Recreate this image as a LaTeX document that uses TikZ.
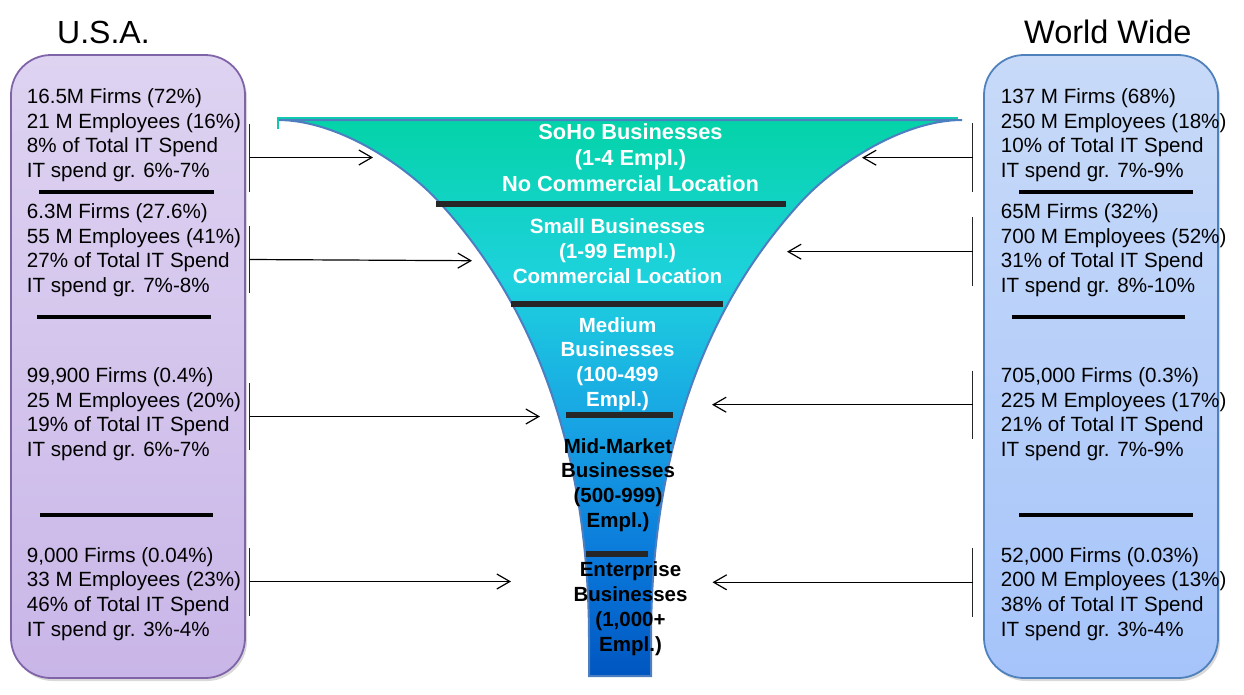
\documentclass[tikz,border=0pt]{standalone}
\usepackage{fontspec}
\setmainfont{Liberation Sans}
\usetikzlibrary{arrows.meta,shadows}
\definecolor{usatop}{RGB}{222,211,241}
\definecolor{usabot}{RGB}{201,182,232}
\definecolor{usaedge}{RGB}{128,100,168}
\definecolor{wwtop}{RGB}{200,218,248}
\definecolor{wwbot}{RGB}{166,196,250}
\definecolor{wwedge}{RGB}{79,129,189}
\definecolor{fbot}{RGB}{0,86,192}
\definecolor{fcA}{RGB}{10,120,218}
\definecolor{fcB}{RGB}{24,165,228}
\definecolor{fcC}{RGB}{30,210,222}
\definecolor{ftop}{RGB}{4,211,168}
\definecolor{funneledge}{RGB}{76,126,192}
\definecolor{toplinecol}{RGB}{16,200,176}
\definecolor{barcol}{RGB}{38,38,38}
\pgfdeclareverticalshading{funnelshade}{100bp}{color(0bp)=(fbot); color(25bp)=(fbot); color(35.4bp)=(fcA); color(48bp)=(fcB); color(60.6bp)=(fcC); color(75bp)=(ftop); color(100bp)=(ftop)}
\tikzset{
  usabox/.style={draw=usaedge, line width=1.8pt, rounded corners=40pt, top color=usatop, bottom color=usabot,
    drop shadow={shadow xshift=2pt, shadow yshift=-3pt, opacity=0.25, fill=black!60}, inner sep=0pt},
  wwbox/.style={draw=wwedge, line width=1.8pt, rounded corners=40pt, top color=wwtop, bottom color=wwbot,
    drop shadow={shadow xshift=2pt, shadow yshift=-3pt, opacity=0.25, fill=black!60}, inner sep=0pt},
  stat/.style={anchor=base west, inner sep=0pt, font=\fontsize{20.6}{24.7}\selectfont},
  titletext/.style={anchor=base west, inner sep=0pt, font=\fontsize{32}{38}\selectfont},
  ftext/.style={anchor=base, inner sep=0pt, font=\bfseries\fontsize{20.5}{24.6}\selectfont},
  boxsep/.style={line width=4pt, black},
  fbar/.style={line width=5.5pt, barcol},
  bracketline/.style={line width=1.3pt, black!85},
  conn/.style={line width=1.2pt, black, -{Straight Barb[length=13pt,width=15pt,line width=1.2pt]}},
}
\begin{document}
\begin{tikzpicture}[x=1pt,y=-1pt]
\useasboundingbox (0,0) rectangle (1244,694);

% side boxes
\node[usabox, minimum width=234pt, minimum height=623pt] (usa) at (128,366.5) {};
\node[wwbox, minimum width=234pt, minimum height=623pt] (ww) at (1101,366.5) {};

% titles
\node[titletext] (usatitle) at (57,43.3) {U.S.A.};
\node[titletext, font=\fontsize{32.5}{38}\selectfont] (wwtitle) at (1024,43.3) {World Wide};

% funnel
\path[draw=funneledge, line width=2pt, shading=funnelshade]
  (278,120) .. controls (338,120) and (406.5,166) .. (440,203)
  .. controls (493.6,262.2) and (589,390) .. (589,640) -- (589,676)
  -- (651,676) -- (651,640)
  .. controls (651,390) and (746.4,262.2) .. (800,203)
  .. controls (833.5,166) and (902,120) .. (962,120) -- cycle;
\draw[toplinecol, line width=2pt] (278,129) -- (278,117.5) -- (958,117.5);

% funnel bars
\draw[fbar] (436,203.8) -- (786,203.8);
\draw[fbar] (511,304) -- (723,304);
\draw[fbar] (566,415) -- (673,415);
\draw[fbar] (586,554) -- (648,554);

% funnel texts
\node[ftext, text=white, font=\bfseries\fontsize{21.8}{26}\selectfont] (soho) at (630.5,139.5)
  {\begin{tabular}[t]{@{}c@{}}SoHo Businesses\\(1-4 Empl.)\\No Commercial Location\end{tabular}};
\node[ftext, text=white, font=\bfseries\fontsize{20.6}{25}\selectfont] (small) at (617.5,233)
  {\begin{tabular}[t]{@{}c@{}}Small Businesses\\(1-99 Empl.)\\Commercial Location\end{tabular}};
\node[ftext, text=white] (medium) at (617.5,332.3)
  {\begin{tabular}[t]{@{}c@{}}Medium\\Businesses\\(100-499\\Empl.)\end{tabular}};
\node[ftext, text=black] (mid) at (618,453.3)
  {\begin{tabular}[t]{@{}c@{}}Mid-Market\\Businesses\\(500-999)\\Empl.)\end{tabular}};
\node[ftext, text=black, font=\bfseries\fontsize{20.5}{25}\selectfont] (ent) at (630.5,576.7)
  {\begin{tabular}[t]{@{}c@{}}Enterprise\\Businesses\\(1,000+\\Empl.)\end{tabular}};

% left stats
\node[stat] (l1) at (26.7,103.5) {\begin{tabular}[t]{@{}l@{}}16.5M Firms (72\%)\\21 M Employees (16\%)\\8\% of Total IT Spend\\IT spend gr. 6\%-7\%\end{tabular}};
\node[stat] (l2) at (26.7,218.5) {\begin{tabular}[t]{@{}l@{}}6.3M Firms (27.6\%)\\55 M Employees (41\%)\\27\% of Total IT Spend\\IT spend gr. 7\%-8\%\end{tabular}};
\node[stat] (l3) at (26.7,382.5) {\begin{tabular}[t]{@{}l@{}}99,900 Firms (0.4\%)\\25 M Employees (20\%)\\19\% of Total IT Spend\\IT spend gr. 6\%-7\%\end{tabular}};
\node[stat] (l4) at (26.7,562) {\begin{tabular}[t]{@{}l@{}}9,000 Firms (0.04\%)\\33 M Employees (23\%)\\46\% of Total IT Spend\\IT spend gr. 3\%-4\%\end{tabular}};

% right stats
\node[stat] (r1) at (1000.7,103.5) {\begin{tabular}[t]{@{}l@{}}137 M Firms (68\%)\\250 M Employees (18\%)\\10\% of Total IT Spend\\IT spend gr. 7\%-9\%\end{tabular}};
\node[stat] (r2) at (1000.7,218.5) {\begin{tabular}[t]{@{}l@{}}65M Firms (32\%)\\700 M Employees (52\%)\\31\% of Total IT Spend\\IT spend gr. 8\%-10\%\end{tabular}};
\node[stat] (r3) at (1000.7,382.5) {\begin{tabular}[t]{@{}l@{}}705,000 Firms (0.3\%)\\225 M Employees (17\%)\\21\% of Total IT Spend\\IT spend gr. 7\%-9\%\end{tabular}};
\node[stat] (r4) at (1000.7,562) {\begin{tabular}[t]{@{}l@{}}52,000 Firms (0.03\%)\\200 M Employees (13\%)\\38\% of Total IT Spend\\IT spend gr. 3\%-4\%\end{tabular}};

% box separators
\draw[boxsep] (39,192) -- (214,192);
\draw[boxsep] (37,317) -- (211,317);
\draw[boxsep] (40,515) -- (213,515);
\draw[boxsep] (1019,192) -- (1192.5,192);
\draw[boxsep] (1012,317) -- (1185,317);
\draw[boxsep] (1019,515) -- (1192.5,515);

% bracket coordinates
\coordinate (lb1t) at (249.5,124);   \coordinate (lb1b) at (249.5,191.7); \coordinate (lb1m) at (249.5,157.5);
\coordinate (lb2t) at (249.5,225.7); \coordinate (lb2b) at (249.5,293.3); \coordinate (lb2m) at (249.5,259.5);
\coordinate (lb3t) at (249.5,383);   \coordinate (lb3b) at (249.5,450);   \coordinate (lb3m) at (249.5,416.5);
\coordinate (lb4t) at (249.5,548.3); \coordinate (lb4b) at (249.5,616);   \coordinate (lb4m) at (249.5,581.5);
\coordinate (rb1t) at (972.7,123.3); \coordinate (rb1b) at (972.7,191.7); \coordinate (rb1m) at (972.7,157.7);
\coordinate (rb2t) at (972.7,217.3); \coordinate (rb2b) at (972.7,286);   \coordinate (rb2m) at (972.7,251.7);
\coordinate (rb3t) at (972.7,370.7); \coordinate (rb3b) at (972.7,439.3); \coordinate (rb3m) at (972.7,404.7);
\coordinate (rb4t) at (972.7,548.3); \coordinate (rb4b) at (972.7,616.7); \coordinate (rb4m) at (972.7,582.3);
% arrow tips
\coordinate (lt1) at (373,157.5);
\coordinate (lt2) at (472,260.7);
\coordinate (lt3) at (540,416.5);
\coordinate (lt4) at (511,581.5);
\coordinate (rt1) at (862,157.7);
\coordinate (rt2) at (787,251.7);
\coordinate (rt3) at (712,404.7);
\coordinate (rt4) at (712.5,582.3);

\foreach \s in {lb1,lb2,lb3,lb4,rb1,rb2,rb3,rb4}{
  \draw[bracketline] (\s t) -- (\s b);
}
\draw[conn] (lb1m) -- (lt1);
\draw[conn] (lb2m) -- (lt2);
\draw[conn] (lb3m) -- (lt3);
\draw[conn] (lb4m) -- (lt4);
\draw[conn] (rb1m) -- (rt1);
\draw[conn] (rb2m) -- (rt2);
\draw[conn] (rb3m) -- (rt3);
\draw[conn] (rb4m) -- (rt4);
\end{tikzpicture}
\end{document}
